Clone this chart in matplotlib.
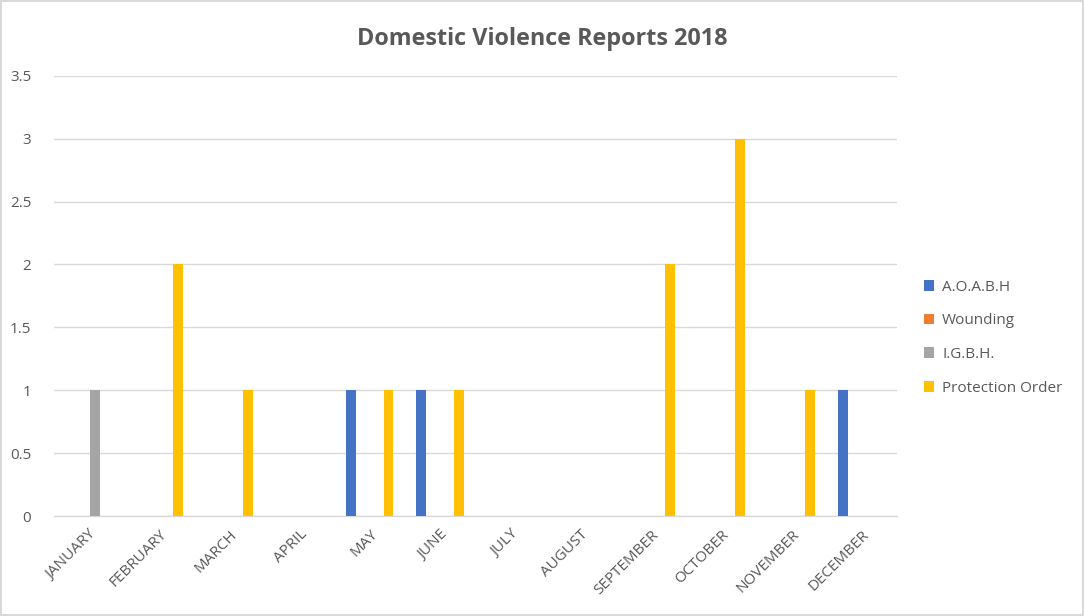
import numpy as np
import matplotlib
matplotlib.use("Agg")
import matplotlib.pyplot as plt

months = ['JANUARY', 'FEBRUARY', 'MARCH', 'APRIL', 'MAY', 'JUNE', 'JULY',
          'AUGUST', 'SEPTEMBER', 'OCTOBER', 'NOVEMBER', 'DECEMBER']
aoabh = [0, 0, 0, 0, 1, 1, 0, 0, 0, 0, 0, 1]
wounding = [0, 0, 0, 0, 0, 0, 0, 0, 0, 0, 0, 0]
igbh = [1, 0, 0, 0, 0, 0, 0, 0, 0, 0, 0, 0]
protection = [0, 2, 1, 0, 1, 1, 0, 0, 2, 3, 1, 0]

series = [('A.O.A.B.H', aoabh, '#4472C4'),
          ('Wounding', wounding, '#ED7D31'),
          ('I.G.B.H.', igbh, '#A5A5A5'),
          ('Protection Order', protection, '#FFC000')]

plt.rcParams['font.family'] = ['Open Sans', 'DejaVu Sans']
txt = '#595959'

fig = plt.figure(figsize=(10.84, 6.16), dpi=100)
fig.patch.set_edgecolor('#d9d9d9')
fig.patch.set_linewidth(1.5)
ax = fig.add_axes([0.0494, 0.1623, 0.778, 0.7147])

x = np.arange(len(months))
step = 0.178
w = 0.14
for i, (name, vals, col) in enumerate(series):
    ax.bar(x + (i - 1.5) * step, vals, width=w, color=col, label=name, zorder=3)

ax.set_xlim(-0.5, len(months) - 0.5)
ax.set_ylim(0, 3.5)
ax.set_yticks(np.arange(0, 3.51, 0.5))
ax.set_yticklabels(['0', '0.5', '1', '1.5', '2', '2.5', '3', '3.5'])
ax.set_xticks(x)
ax.set_xticklabels(months, rotation=45, ha='right', rotation_mode='anchor')
ax.tick_params(axis='x', length=0, colors=txt, labelsize=11, pad=8)
ax.tick_params(axis='y', length=0, colors=txt, labelsize=11, pad=16)
ax.yaxis.grid(True, color='#d9d9d9', linewidth=1, zorder=0)
for s in ['top', 'right', 'left']:
    ax.spines[s].set_visible(False)
ax.spines['bottom'].set_color('#d9d9d9')
ax.spines['bottom'].set_linewidth(1)

fig.text(0.5, 0.936, 'Domestic Violence Reports 2018', ha='center', va='center',
         fontsize=16.8, fontweight='bold', color=txt)

leg = fig.legend(loc='center left', bbox_to_anchor=(0.8395, 0.452), frameon=False,
                 fontsize=11, handlelength=0.7, handleheight=0.7, labelspacing=1.22,
                 handletextpad=0.5, labelcolor=txt)

fig.savefig('out.png', dpi=100)
